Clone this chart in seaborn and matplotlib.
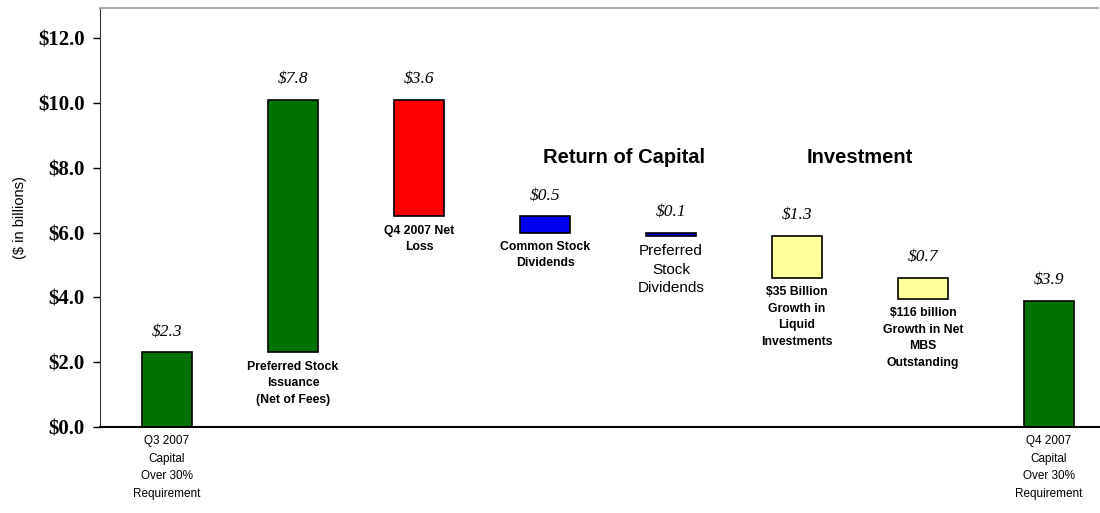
import numpy as np
import pandas as pd
import matplotlib
matplotlib.use('Agg')
import matplotlib.pyplot as plt
import seaborn as sns

# ===== 数据 =====
steps = ['Q3 2007\nCapital\nOver 30%\nRequirement',
         'Preferred Stock\nIssuance\n(Net of Fees)',
         'Q4 2007 Net\nLoss',
         'Common Stock\nDividends',
         'Preferred\nStock\nDividends',
         '$35 Billion\nGrowth in\nLiquid\nInvestments',
         '$116 billion\nGrowth in Net\nMBS\nOutstanding',
         'Q4 2007\nCapital\nOver 30%\nRequirement']
bottoms = [0.0, 2.3, 6.5, 6.0, 5.9, 4.6, 3.95, 0.0]
tops = [2.3, 10.1, 10.1, 6.5, 6.0, 5.9, 4.6, 3.9]
value_labels = ['$2.3', '$7.8', '$3.6', '$0.5', '$0.1', '$1.3', '$0.7', '$3.9']
bar_colors = ['#007200', '#007200', '#FF0000', '#0000EE', '#0000EE',
              '#FFFF99', '#FFFF99', '#007200']
y_ticks = [0, 2, 4, 6, 8, 10, 12]

heights = [t - b for t, b in zip(tops, bottoms)]
df = pd.DataFrame({'step': range(len(steps)), 'height': heights})

sns.set_style('white')
plt.rcParams['text.color'] = 'black'
plt.rcParams['axes.labelcolor'] = 'black'
plt.rcParams['ytick.color'] = 'black'

fig = plt.figure(figsize=(11, 5.13), dpi=100)
ax = fig.add_axes([100 / 1100, 86 / 513, 1000 / 1100, 419 / 513])

sns.barplot(data=df, x='step', y='height', bottom=bottoms, color='#007200',
            width=0.4, edgecolor='black', linewidth=1.2, errorbar=None, ax=ax)
for patch, c in zip(ax.patches, bar_colors):
    patch.set_facecolor(c)

ax.set_xlim(-0.532, 7.405)
ax.set_ylim(0, 12.93)

# 数值标签（斜体）
for i, (t, lab) in enumerate(zip(tops, value_labels)):
    ax.annotate(lab, (i, t), xytext=(0, 15), textcoords='offset points',
                ha='center', va='center', fontsize=12.5, style='italic',
                family='Liberation Serif')

# 类别标签
for i, (b, lab) in enumerate(zip(bottoms, steps)):
    if b == 0:
        ax.annotate(lab, (i, 0), xytext=(0, -6), textcoords='offset points',
                    ha='center', va='top', fontsize=8.5, linespacing=1.6,
                    family='Liberation Sans')
    elif i == 4:
        ax.annotate(lab, (i, b), xytext=(0, -6), textcoords='offset points',
                    ha='center', va='top', fontsize=11, linespacing=1.4,
                    family='Liberation Sans')
    else:
        ax.annotate(lab, (i, b), xytext=(0, -6), textcoords='offset points',
                    ha='center', va='top', fontsize=8.8, linespacing=1.5,
                    family='Liberation Sans', fontweight='bold')

# 分组标题
ax.text(3.63, 8.33, 'Return of Capital', ha='center', va='center',
        fontsize=14.5, fontweight='bold', family='Liberation Sans')
ax.text(5.5, 8.33, 'Investment', ha='center', va='center',
        fontsize=14.5, fontweight='bold', family='Liberation Sans')

# 坐标轴
ax.set_yticks(y_ticks)
ax.set_yticklabels([f'${v:.1f}' for v in y_ticks], family='Liberation Serif',
                   fontweight='bold', fontsize=15)
ax.tick_params(axis='y', left=True, length=5, width=1, direction='out', pad=6)
ax.set_xticks([])
ax.set_xlabel('')
ax.set_ylabel('($ in billions)', family='Liberation Sans', fontsize=10.5, labelpad=8)

ax.spines['right'].set_visible(False)
ax.spines['left'].set_color('#333333')
ax.spines['bottom'].set_color('black')
ax.spines['bottom'].set_linewidth(1.5)
ax.spines['top'].set_color('#999999')
ax.spines['top'].set_linestyle((0, (2, 1)))
ax.spines['top'].set_linewidth(1.2)

fig.savefig('out.png', dpi=100)
